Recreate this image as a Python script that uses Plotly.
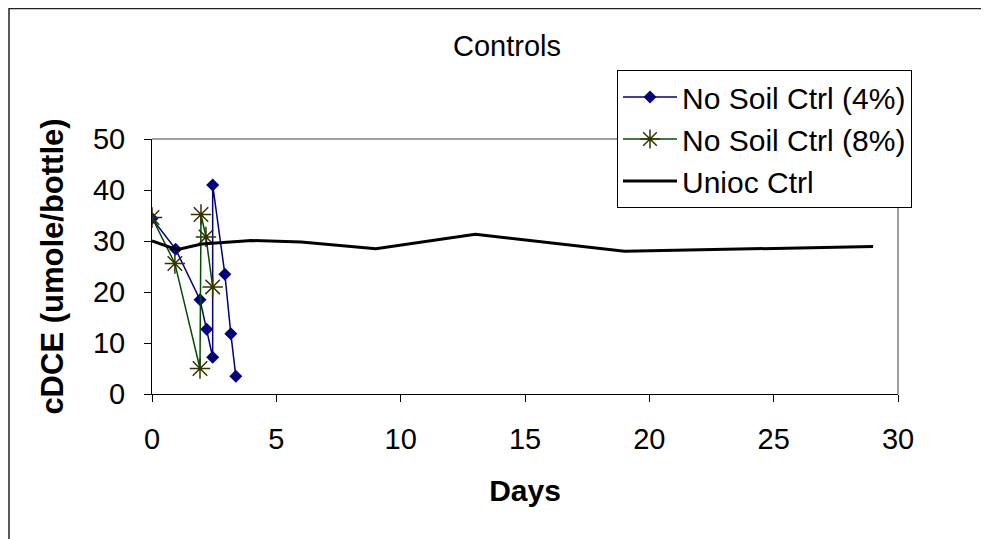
import plotly.graph_objects as go

# Data
days_4 = [0, 0.95, 1.93, 2.2, 2.44, 2.44, 2.93, 3.17, 3.37]
cdce_4 = [34.4, 28.4, 18.5, 12.7, 7.2, 41.0, 23.5, 11.8, 3.5]

days_8 = [0, 0.92, 1.93, 1.97, 2.17, 2.44]
cdce_8 = [34.6, 25.6, 5.0, 35.2, 30.8, 21.0]

days_u = [0, 1, 2, 4, 6, 9, 13, 19, 29]
cdce_u = [30.0, 28.3, 29.4, 30.1, 29.8, 28.5, 31.3, 28.0, 28.9]

x_ticks = [0, 5, 10, 15, 20, 25, 30]
y_ticks = [0, 10, 20, 30, 40, 50]

fig = go.Figure()
fig.add_trace(go.Scatter(
    x=days_4, y=cdce_4, mode="lines+markers", name="No Soil Ctrl (4%)",
    line=dict(color="#000080", width=1.5),
    marker=dict(symbol="diamond", size=10, color="#000080"),
))
fig.add_trace(go.Scatter(
    x=days_8, y=cdce_8, mode="lines+markers", name="No Soil Ctrl (8%)",
    line=dict(color="#004d00", width=1.5),
    marker=dict(symbol="asterisk-open", size=17, color="#333300",
                line=dict(color="#333300", width=1.5)),
))
fig.add_trace(go.Scatter(
    x=days_u, y=cdce_u, mode="lines", name="Unioc Ctrl",
    line=dict(color="#000000", width=3),
))

# page is offset by 8px body margin; coordinates below are in figure pixels
W, H = 989, 539
L, R, T, B = 144, 890, 131, 386
pw, ph = R - L, B - T

fig.update_layout(
    width=W, height=H,
    margin=dict(l=L, r=W - R, t=T, b=H - B),
    paper_bgcolor="white", plot_bgcolor="white",
    font=dict(family="Arial, Liberation Sans, sans-serif", color="black", size=29),
    title=dict(text="Controls", x=(499 - L) / pw, xref="paper", y=1 - 38 / H,
               xanchor="center", yanchor="middle", font=dict(size=29)),
    showlegend=True,
    legend=dict(
        x=(609 - L) / pw, y=(B - 62) / ph, xanchor="left", yanchor="top",
        bordercolor="black", borderwidth=1, bgcolor="white",
        font=dict(size=30), itemwidth=54, tracegroupgap=0,
    ),
    xaxis=dict(
        range=[0, 30], tickvals=x_ticks, ticktext=[str(v) for v in x_ticks],
        showgrid=False, zeroline=False, showline=True, linecolor="black",
        ticks="outside", ticklen=7, tickcolor="black", ticklabelstandoff=12,
        tickfont=dict(size=29),
        title=dict(text="<b>Days</b>", font=dict(size=30), standoff=26),
    ),
    yaxis=dict(
        range=[0, 50], tickvals=y_ticks, ticktext=[str(v) for v in y_ticks],
        showgrid=False, zeroline=False, showline=True, linecolor="black",
        ticks="outside", ticklen=7, tickcolor="black", ticklabelstandoff=13,
        tickfont=dict(size=29),
        title=dict(text="<b>cDCE (umole/bottle)</b>", font=dict(size=31), standoff=20),
    ),
    shapes=[
        # plot area gray border (top and right)
        dict(type="line", xref="paper", yref="paper", x0=0, x1=1, y0=1, y1=1,
             line=dict(color="#808080", width=1.5)),
        dict(type="line", xref="paper", yref="paper", x0=1, x1=1, y0=0, y1=1,
             line=dict(color="#808080", width=1.5)),
        # outer chart border
        dict(type="rect", xref="paper", yref="paper",
             x0=(1 - L) / pw, x1=(W + 20 - L) / pw,
             y0=(B - (H + 20)) / ph, y1=(B - 0.5) / ph,
             line=dict(color="#222222", width=1.5), layer="below"),
    ],
)

fig.write_html("out.html")
